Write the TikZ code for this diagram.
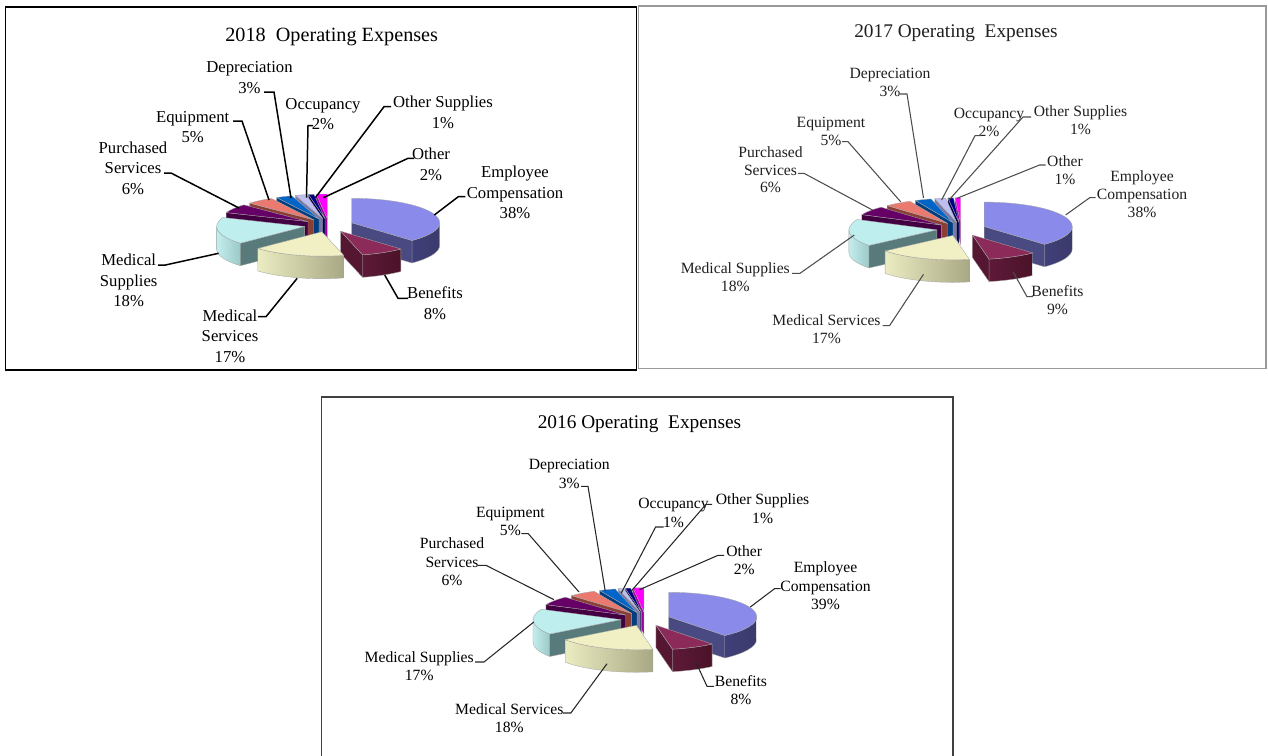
\documentclass[tikz,border=0pt]{standalone}
\usepackage{fontspec}
\setmainfont{Liberation Serif}
\usetikzlibrary{positioning}

% slice colours: top, side (left/right), radial face
\definecolor{ectop}{HTML}{8A8AEB}\definecolor{ecsa}{HTML}{40407A}\definecolor{ecsb}{HTML}{3A3A6C}\definecolor{ecrad}{HTML}{4A4A82}
\definecolor{bentop}{HTML}{8C2A5A}\definecolor{bensa}{HTML}{5E1A38}\definecolor{bensb}{HTML}{4A1228}\definecolor{benrad}{HTML}{551632}
\definecolor{msetop}{HTML}{F0F0C4}\definecolor{msesa}{HTML}{ECECC2}\definecolor{msesb}{HTML}{A8A884}\definecolor{mserad}{HTML}{C0C096}
\definecolor{msutop}{HTML}{BEEEEE}\definecolor{msusa}{HTML}{C4EEEE}\definecolor{msusb}{HTML}{9CC8C8}\definecolor{msurad}{HTML}{587A7A}
\definecolor{purtop}{HTML}{660066}\definecolor{pursa}{HTML}{480048}\definecolor{pursb}{HTML}{3A003A}\definecolor{purrad}{HTML}{420042}
\definecolor{equtop}{HTML}{EA7A70}\definecolor{equsa}{HTML}{A84C42}\definecolor{equsb}{HTML}{8A3A30}\definecolor{equrad}{HTML}{8C3E34}
\definecolor{deptop}{HTML}{0064C8}\definecolor{depsa}{HTML}{00448C}\definecolor{depsb}{HTML}{003A78}\definecolor{deprad}{HTML}{003E80}
\definecolor{occtop}{HTML}{BEBEF0}\definecolor{occsa}{HTML}{8A8AB4}\definecolor{occsb}{HTML}{7070A0}\definecolor{occrad}{HTML}{7878A8}
\definecolor{osutop}{HTML}{000082}\definecolor{osusa}{HTML}{000058}\definecolor{osusb}{HTML}{000048}\definecolor{osurad}{HTML}{000050}
\definecolor{othtop}{HTML}{FF00FF}\definecolor{othsa}{HTML}{B000B0}\definecolor{othsb}{HTML}{900090}\definecolor{othrad}{HTML}{A000A0}

\tikzset{face/.style={draw=black!35, line width=0.2pt, line join=round}}

% exploded 3d slice: start angle, end angle (clockwise), colour prefix
\newcommand\pieslice[3]{%
  \pgfmathsetmacro\slMid{(#1+#2)/2}%
  \pgfmathsetmacro\slOx{0.28*88*cos(\slMid)}%
  \pgfmathsetmacro\slOy{0.28*24.4*sin(\slMid)}%
  \pgfmathsetmacro\slA{max(#2,-180)}%
  \pgfmathsetmacro\slB{min(#1,0)}%
  \pgfmathtruncatemacro\slSide{\slA<\slB}%
  \pgfmathtruncatemacro\slEnd{cos(#2)>0.001}%
  \pgfmathtruncatemacro\slStart{cos(#1)<-0.001}%
  \begin{scope}[shift={(\slOx,\slOy)}]
    \ifnum\slSide=1
      \shadedraw[face, left color=#3sa, right color=#3sb] ({88*cos(\slA)},{24.4*sin(\slA)}) arc[start angle=\slA, end angle=\slB, x radius=88, y radius=24.4] -- ++(0,-22.5) arc[start angle=\slB, end angle=\slA, x radius=88, y radius=24.4] -- cycle;
    \fi
    \ifnum\slEnd=1
      \filldraw[face, fill=#3rad] (0,0) -- ({88*cos(#2)},{24.4*sin(#2)}) -- ++(0,-22.5) -- (0,-22.5) -- cycle;
    \fi
    \ifnum\slStart=1
      \filldraw[face, fill=#3rad] (0,0) -- ({88*cos(#1)},{24.4*sin(#1)}) -- ++(0,-22.5) -- (0,-22.5) -- cycle;
    \fi
    \filldraw[face, fill=#3top] (0,0) -- ({88*cos(#1)},{24.4*sin(#1)}) arc[start angle=#1, end angle=#2, x radius=88, y radius=24.4] -- cycle;
  \end{scope}}

\begin{document}
\begin{tikzpicture}[x=0.02cm, y=-0.02cm,
    lbl/.style={align=center, inner sep=0pt, font=\fontsize{9.5}{11.6}\selectfont},
    lblb/.style={align=center, inner sep=0pt, text=black!88, font=\fontsize{8.9}{10.2}\selectfont},
    lblc/.style={align=center, inner sep=0pt, font=\fontsize{8.9}{10.4}\selectfont},
    ttl/.style={inner sep=0pt, font=\fontsize{11.5}{13}\selectfont},
    ttlb/.style={inner sep=0pt, text=black!88, font=\fontsize{11}{13}\selectfont},
    ttlc/.style={inner sep=0pt, font=\fontsize{11}{13}\selectfont},
    lead/.style={line width=0.85pt},
    leadb/.style={black!70, line width=0.6pt},
    leadc/.style={black!85, line width=0.6pt}]
  \useasboundingbox (0,0) rectangle (1268,755);

  % frames
  \draw[line width=0.85pt] (5.7,7) rectangle (636.7,370);
  \draw[black!40, line width=1pt] (638.5,6) rectangle (1266,368.5);
  \draw[black!75, line width=0.85pt] (321.3,756) -- (321.3,397) -- (953,397) -- (953,756);

  % 2018
  \begin{scope}[shift={(328.8,225.2)}, yscale=-1]
    \pieslice{-262.8}{-270}{oth}
    \pieslice{-259.2}{-262.8}{osu}
    \pieslice{-252}{-259.2}{occ}
    \pieslice{-241.2}{-252}{dep}
    \pieslice{-223.2}{-241.2}{equ}
    \pieslice{-201.6}{-223.2}{pur}
    \pieslice{90}{-46.8}{ec}
    \pieslice{-136.8}{-201.6}{msu}
    \pieslice{-46.8}{-75.6}{ben}
    \pieslice{-75.6}{-136.8}{mse}
  \end{scope}

  \node[ttl] (t18) at (331.7,37) {2018\ \ Operating Expenses};
  \node[lbl] (dep18) at (249.5,77.5) {Depreciation\\3\%};
  \node[lbl] (occ18) at (323,114.3) {Occupancy\\2\%};
  \node[lbl] (osu18) at (443,112.3) {Other Supplies\\1\%};
  \node[lbl] (oth18) at (431,164.2) {Other\\2\%};
  \node[lbl] (ec18) at (515,192.5) {Employee\\Compensation\\38\%};
  \node[lbl] (ben18) at (435,303.3) {Benefits\\8\%};
  \node[lbl] (mse18) at (230,336.2) {Medical\\Services\\17\%};
  \node[lbl] (msu18) at (128.7,280.5) {Medical\\Supplies\\18\%};
  \node[lbl] (pur18) at (133,168.3) {Purchased\\Services\\6\%};
  \node[lbl] (equ18) at (192.7,127.2) {Equipment\\5\%};

  \coordinate (dep18s) at (264,92);      \coordinate (dep18p) at (291,198);
  \coordinate (equ18s) at (233,121);     \coordinate (equ18p) at (269,200);
  \coordinate (pur18s) at (164,173);     \coordinate (pur18p) at (239,208);
  \coordinate (occ18s) at (313,125.7);   \coordinate (occ18p) at (306.5,197.7);
  \coordinate (osu18s) at (391,106.7);   \coordinate (osu18p) at (315.4,197.7);
  \coordinate (oth18s) at (414,158.3);   \coordinate (oth18p) at (323.4,197.7);
  \coordinate (ec18s) at (465.3,196.7);  \coordinate (ec18p) at (434.3,215);
  \coordinate (ben18s) at (408,298.3);   \coordinate (ben18p) at (384.7,275);
  \coordinate (mse18s) at (258,316.7);   \coordinate (mse18p) at (297.2,278.3);
  \coordinate (msu18s) at (158,265);     \coordinate (msu18p) at (218.6,253.3);

  \draw[lead] (dep18s) -- ++(10,0) -- (dep18p);
  \draw[lead] (equ18s) -- ++(9,0) -- (equ18p);
  \draw[lead] (pur18s) -- ++(7,0) -- (pur18p);
  \draw[lead] (occ18s) -- ++(-5,0) -- (occ18p);
  \draw[lead] (osu18s) -- ++(-7,0) -- (osu18p);
  \draw[lead] (oth18s) -- ++(-6,0) -- (oth18p);
  \draw[lead] (ec18s) -- ++(-7,0) -- (ec18p);
  \draw[lead] (ben18s) -- ++(-10,0) -- (ben18p);
  \draw[lead] (mse18s) -- ++(8,0) -- (mse18p);
  \draw[lead] (msu18s) -- ++(7.4,0) -- (msu18p);

  % 2017
  \begin{scope}[shift={(961.3,229)}, yscale=-1]
    \pieslice{-266.4}{-270}{oth}
    \pieslice{-262.8}{-266.4}{osu}
    \pieslice{-255.6}{-262.8}{occ}
    \pieslice{-244.8}{-255.6}{dep}
    \pieslice{-226.8}{-244.8}{equ}
    \pieslice{-205.2}{-226.8}{pur}
    \pieslice{90}{-46.8}{ec}
    \pieslice{-140.4}{-205.2}{msu}
    \pieslice{-46.8}{-79.2}{ben}
    \pieslice{-79.2}{-140.4}{mse}
  \end{scope}

  \node[ttlb] (t17) at (956,33) {2017 Operating\ \ Expenses};
  \node[lblb] (dep17) at (890,82.5) {Depreciation\\3\%};
  \node[lblb] (equ17) at (831,131.3) {Equipment\\5\%};
  \node[lblb] (pur17) at (770.5,169.7) {Purchased\\Services\\6\%};
  \node[lblb] (occ17) at (989,122.3) {Occupancy\\2\%};
  \node[lblb] (osu17) at (1080.5,120) {Other Supplies\\1\%};
  \node[lblb] (oth17) at (1065,170.5) {Other\\1\%};
  \node[lblb] (ec17) at (1142,194.5) {Employee\\Compensation\\38\%};
  \node[lblb] (ben17) at (1057.5,300) {Benefits\\9\%};
  \node[lblb] (mse17) at (826.5,329.2) {Medical Services\\17\%};
  \node[lblb] (msu17) at (735.3,277.5) {Medical Supplies\\18\%};

  \coordinate (dep17s) at (900,94);       \coordinate (dep17p) at (923.5,198);
  \coordinate (equ17s) at (842,141.7);    \coordinate (equ17p) at (900.6,201.7);
  \coordinate (pur17s) at (798,173.3);    \coordinate (pur17p) at (872.4,210);
  \coordinate (occ17s) at (981,135.7);    \coordinate (occ17p) at (941.6,200);
  \coordinate (osu17s) at (1031,117);     \coordinate (osu17p) at (949,200);
  \coordinate (oth17s) at (1045.5,165);   \coordinate (oth17p) at (957,198.3);
  \coordinate (ec17s) at (1095.7,197.7);  \coordinate (ec17p) at (1065.6,215);
  \coordinate (ben17s) at (1033,296.7);   \coordinate (ben17p) at (1013,271.7);
  \coordinate (mse17s) at (882.5,325.7);  \coordinate (mse17p) at (923.5,274.3);
  \coordinate (msu17s) at (792,273.3);    \coordinate (msu17p) at (854.3,235);

  \draw[leadb] (dep17s) -- ++(7,0) -- (dep17p);
  \draw[leadb] (equ17s) -- ++(6,0) -- (equ17p);
  \draw[leadb] (pur17s) -- ++(6,0) -- (pur17p);
  \draw[leadb] (occ17s) -- ++(-6,0) -- (occ17p);
  \draw[leadb] (osu17s) -- ++(-8,0) -- (osu17p);
  \draw[leadb] (oth17s) -- ++(-6,0) -- (oth17p);
  \draw[leadb] (ec17s) -- ++(-6,0) -- (ec17p);
  \draw[leadb] (ben17s) -- ++(-6,0) -- (ben17p);
  \draw[leadb] (mse17s) -- ++(7,0) -- (mse17p);
  \draw[leadb] (msu17s) -- ++(8,0) -- (msu17p);

  % 2016
  \begin{scope}[shift={(645.5,619)}, yscale=-1]
    \pieslice{-262.8}{-270}{oth}
    \pieslice{-259.2}{-262.8}{osu}
    \pieslice{-255.6}{-259.2}{occ}
    \pieslice{-244.8}{-255.6}{dep}
    \pieslice{-226.8}{-244.8}{equ}
    \pieslice{-205.2}{-226.8}{pur}
    \pieslice{90}{-50.4}{ec}
    \pieslice{-144}{-205.2}{msu}
    \pieslice{-50.4}{-79.2}{ben}
    \pieslice{-79.2}{-144}{mse}
  \end{scope}

  \node[ttlc] (t16) at (639.5,423.7) {2016 Operating\ \ Expenses};
  \node[lblc] (dep16) at (569.3,473.8) {Depreciation\\3\%};
  \node[lblc] (equ16) at (510.4,521.7) {Equipment\\5\%};
  \node[lblc] (pur16) at (452,561.7) {Purchased\\Services\\6\%};
  \node[lblc] (occ16) at (673.5,512.8) {Occupancy\\1\%};
  \node[lblc] (osu16) at (762.6,508.7) {Other Supplies\\1\%};
  \node[lblc] (oth16) at (744.2,560.3) {Other\\2\%};
  \node[lblc] (ec16) at (825.5,585.7) {Employee\\Compensation\\39\%};
  \node[lblc] (ben16) at (741,690.3) {Benefits\\8\%};
  \node[lblc] (mse16) at (509.3,718.2) {Medical Services\\18\%};
  \node[lblc] (msu16) at (419.2,666.2) {Medical Supplies\\17\%};

  \coordinate (dep16s) at (581,486.3);    \coordinate (dep16p) at (605.2,591);
  \coordinate (equ16s) at (521.3,533.7);  \coordinate (equ16p) at (579,592);
  \coordinate (pur16s) at (478,565.3);    \coordinate (pur16p) at (554,599.7);
  \coordinate (occ16s) at (663.6,527);    \coordinate (occ16p) at (621.3,593);
  \coordinate (osu16s) at (712,504.3);    \coordinate (osu16p) at (630.5,592);
  \coordinate (oth16s) at (724,555.3);    \coordinate (oth16p) at (639.4,589.7);
  \coordinate (ec16s) at (780.5,588.7);   \coordinate (ec16p) at (750.3,607);
  \coordinate (ben16s) at (714,686.3);    \coordinate (ben16p) at (695.8,662);
  \coordinate (mse16s) at (562.8,713);    \coordinate (mse16p) at (607,663.7);
  \coordinate (msu16s) at (475,662);      \coordinate (msu16p) at (533.8,622);

  \draw[leadc] (dep16s) -- ++(7,0) -- (dep16p);
  \draw[leadc] (equ16s) -- ++(7,0) -- (equ16p);
  \draw[leadc] (pur16s) -- ++(8,0) -- (pur16p);
  \draw[leadc] (occ16s) -- ++(-8,0) -- (occ16p);
  \draw[leadc] (osu16s) -- ++(-6,0) -- (osu16p);
  \draw[leadc] (oth16s) -- ++(-6,0) -- (oth16p);
  \draw[leadc] (ec16s) -- ++(-6,0) -- (ec16p);
  \draw[leadc] (ben16s) -- ++(-7,0) -- (ben16p);
  \draw[leadc] (mse16s) -- ++(8,0) -- (mse16p);
  \draw[leadc] (msu16s) -- ++(9,0) -- (msu16p);
\end{tikzpicture}
\end{document}
